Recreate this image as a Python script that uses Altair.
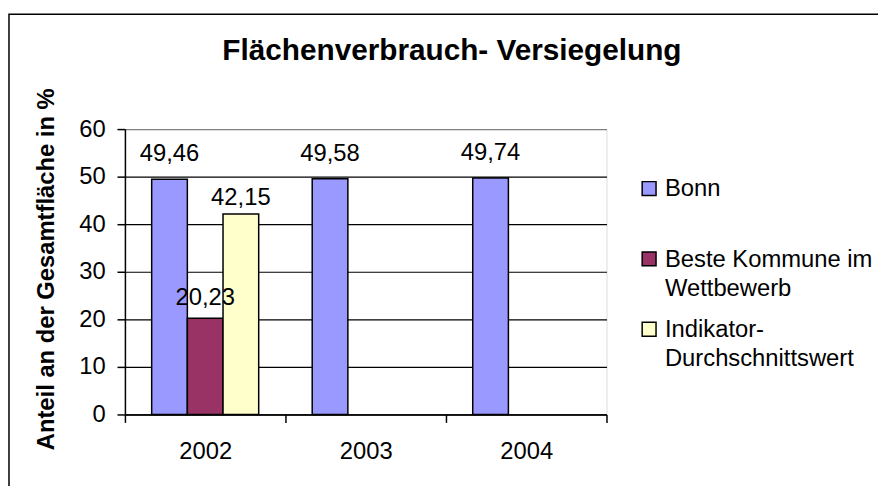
import altair as alt
import pandas as pd

YEARS = ["2002", "2003", "2004"]
SERIES = ["Bonn", "Beste Kommune im Wettbewerb", "Indikator-Durchschnittswert"]
BONN = [49.46, 49.58, 49.74]
BESTE = [20.23, None, None]
INDIKATOR = [42.15, None, None]
COLORS = ["#9999FF", "#993366", "#FFFFCC"]
Y_TICKS = [0, 10, 20, 30, 40, 50, 60]

rows = []
for s, vals in zip(SERIES, [BONN, BESTE, INDIKATOR]):
    for yr, v in zip(YEARS, vals):
        if v is not None:
            rows.append({"Jahr": yr, "Serie": s, "Wert": v})
df = pd.DataFrame(rows)

FONT = "Liberation Sans"

x_enc = alt.X(
    "Jahr:N", sort=YEARS, title=None,
    scale=alt.Scale(paddingInner=0, paddingOuter=0),
    axis=alt.Axis(
        tickBand="extent", labelAngle=0, labelFont=FONT, labelFontSize=24,
        labelColor="black", labelPadding=17, tickSize=8, tickColor="black",
        tickWidth=1.5, domainColor="black", domainWidth=1.5, grid=False,
    ),
)
xo_enc = alt.XOffset(
    "Serie:N", sort=SERIES,
    scale=alt.Scale(domain=SERIES, paddingInner=0, paddingOuter=0.75),
)
y_enc = alt.Y(
    "Wert:Q", title="Anteil an der Gesamtfläche in %",
    scale=alt.Scale(domain=[0, 60], nice=False, zero=True),
    axis=alt.Axis(
        values=Y_TICKS, labelFont=FONT, labelFontSize=24, labelColor="black",
        labelPadding=12, tickSize=8, tickColor="black", tickWidth=1.5,
        domainColor="black", domainWidth=1.5,
        grid=True,
        gridColor={"condition": {"test": "datum.value == 60", "value": "#808080"}, "value": "black"},
        gridWidth=1.2,
        titleFont=FONT, titleFontSize=24, titleFontWeight="bold", titleColor="black",
        titleX=-79, titleY=141, titleAngle=270, titleAlign="center", titleBaseline="middle",
    ),
)

label_expr = (
    "datum.label == 'Beste Kommune im Wettbewerb' ? ['Beste Kommune im', 'Wettbewerb'] : "
    "datum.label == 'Indikator-Durchschnittswert' ? ['Indikator-', 'Durchschnittswert'] : datum.label"
)

base = alt.Chart(df).encode(x=x_enc, xOffset=xo_enc)

bars = base.mark_bar(stroke="black", strokeWidth=1.5, opacity=1).encode(
    y=y_enc,
    color=alt.Color(
        "Serie:N",
        scale=alt.Scale(domain=SERIES, range=COLORS),
        legend=alt.Legend(
            title=None, orient="none", legendX=517, legendY=56, padding=0,
            symbolType="M-1,-2.14L1,-2.14L1,-0.14L-1,-0.14Z", symbolSize=196,
            symbolStrokeColor="black", symbolStrokeWidth=1.5, symbolOpacity=1,
            labelFont=FONT, labelFontSize=24, labelColor="black", labelOffset=4,
            labelLimit=400, labelBaseline="alphabetic", labelExpr=label_expr,
            gridAlign="all", rowPadding=18,
        ),
    ),
)

def labels(series, dy):
    return (
        base.transform_filter(alt.datum.Serie == series)
        .transform_calculate(txt="replace(format(datum.Wert, '.2f'), '.', ',')")
        .mark_text(dy=dy, fontSize=24, font=FONT, color="black", baseline="middle")
        .encode(y=alt.Y("Wert:Q"), text="txt:N")
    )

frame = alt.Chart(alt.Data(values=[{}])).mark_rect(
    fill=None, stroke="black", strokeWidth=1.5
).encode(
    x=alt.value(-117), x2=alt.value(3000), y=alt.value(-116), y2=alt.value(3000)
)

chart = alt.layer(
    frame, bars, labels(SERIES[0], -25), labels(SERIES[1], -20), labels(SERIES[2], -16)
).properties(
    width=486, height=288,
    title=alt.TitleParams(
        "Flächenverbrauch- Versiegelung", font=FONT, fontSize=30, fontWeight="bold",
        color="black", anchor="middle", dx=87, dy=77, offset=0, baseline="alphabetic",
        frame="group",
    ),
    autosize=alt.AutoSizeParams(type="none"),
    padding={"left": 118, "top": 120, "right": 274, "bottom": 70},
    background="white",
).configure_view(
    fill="#C0C0C0", stroke="#808080", strokeWidth=2
).configure(
    style={"guide-label": {"lineHeight": 29}}
)

chart.save("out.html", embed_options={"renderer": "svg", "actions": False})
